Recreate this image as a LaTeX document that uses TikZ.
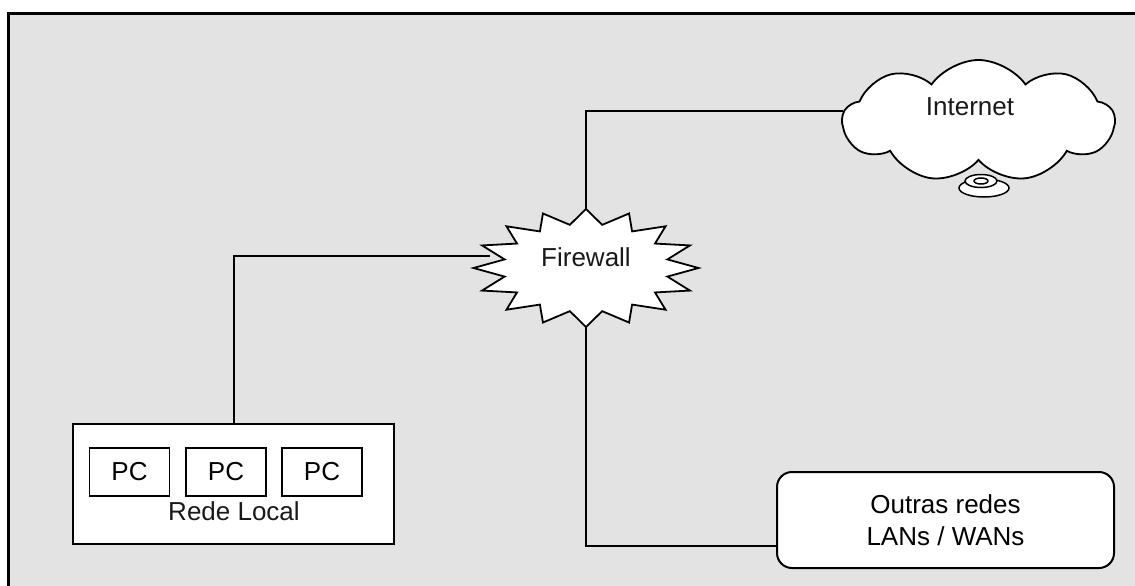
\documentclass[tikz,border=0pt]{standalone}
\usepackage{fontspec}
\setmainfont{Liberation Sans}
\usetikzlibrary{shapes.symbols}
\definecolor{bggray}{RGB}{227,227,227}
\begin{document}
\begin{tikzpicture}[x=1pt,y=-1pt,
  every node/.style={font=\fontsize{26}{32}\selectfont, inner sep=0pt},
  conn/.style={draw=black, line width=2pt},
  box/.style={draw=black, fill=white, line width=2pt, rectangle},
  pcbox/.style={draw=black, fill=white, line width=1.8pt, rectangle, minimum width=80pt, minimum height=48pt},
  lbl/.style={anchor=base, text=black!90}]
\useasboundingbox (0,0) rectangle (1135,586);
\fill[bggray] (8,14) rectangle (1135,586);
\draw[line width=3pt] (8,586) -- (8,14) -- (1135,14);

% named coordinates for connector ends
\coordinate (fwL) at (490,256);
\coordinate (fwT) at (586,209);
\coordinate (fwB) at (586,327);
\coordinate (netL) at (843,111);
\coordinate (outL) at (777,546);

% Rede Local
\node[box, minimum width=321pt, minimum height=120pt] (rl) at (233.5,484) {};
\node[pcbox] (pc1) at (129.5,472) {PC};
\node[pcbox] (pc2) at (226,472) {PC};
\node[pcbox] (pc3) at (322,472) {PC};
\node[lbl] (rllbl) at (234,520) {Rede Local};

% Outras redes
\node[box, rounded corners=15pt, minimum width=337pt, minimum height=96pt, align=center] (out) at (945.5,520) {Outras redes\\LANs / WANs};

% connectors
\draw[conn] (rl.north) |- (fwL);
\draw[conn] (fwT) |- (netL);
\draw[conn] (fwB) |- (outL);

% Firewall star
\draw[line width=1.8pt, fill=white, line join=miter]
  plot[samples at={0,1,...,31}, variable=\k]
  ({586+ifthenelse(mod(\k,2)==0,112.5,83)*cos(90-11.25*\k)},
   {268-ifthenelse(mod(\k,2)==0,59,44)*sin(90-11.25*\k)}) -- cycle;
\node[lbl] (fw) at (586,266) {Firewall};

% Internet cloud
\node[cloud, draw=black, fill=white, line width=1.8pt, cloud puffs=9, cloud puff arc=110,
  aspect=2.3, minimum width=272pt, minimum height=122pt] (net) at (978.5,121) {};
\node[lbl] (netlbl) at (970,115) {Internet};
% small disk under cloud
\draw[line width=1.5pt, fill=white] (984,188) ellipse [x radius=25, y radius=9];
\draw[line width=1.5pt, fill=white] (981,181) ellipse [x radius=16, y radius=6.5];
\draw[line width=1.5pt, fill=white] (981,181) ellipse [x radius=7, y radius=3];
\end{tikzpicture}
\end{document}
